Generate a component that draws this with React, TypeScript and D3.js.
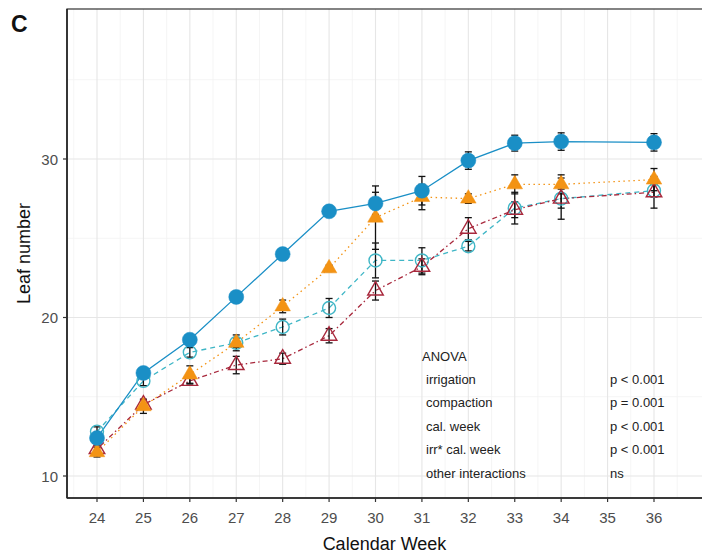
import React from 'react';
import * as d3 from 'd3';

const weeks = [24, 25, 26, 27, 28, 29, 30, 31, 32, 33, 34, 36];
const blueMean = [12.4, 16.5, 18.6, 21.3, 24.0, 26.7, 27.2, 28.0, 29.9, 31.0, 31.1, 31.05];
const blueErr = [0.2, 0.2, 0.2, 0.2, 0.2, 0.2, 0.7, 0.9, 0.55, 0.5, 0.55, 0.55];
const orangeMean = [11.5, 14.4, 16.4, 18.4, 20.7, 23.1, 26.3, 27.6, 27.5, 28.4, 28.4, 28.7];
const orangeErr = [0.3, 0.45, 0.55, 0.3, 0.4, 0.2, 2.0, 0.8, 0.3, 0.6, 0.6, 0.7];
const tealMean = [12.8, 16.0, 17.8, 18.4, 19.4, 20.6, 23.6, 23.6, 24.5, 26.9, 27.5, 28.0];
const tealErr = [0.3, 0.3, 0.3, 0.5, 0.5, 0.6, 1.1, 0.8, 0.3, 1.0, 1.3, 0.4];
const redMean = [11.7, 14.5, 16.0, 17.0, 17.4, 18.85, 21.7, 23.2, 25.6, 26.8, 27.5, 27.9];
const redErr = [0.2, 0.3, 0.2, 0.55, 0.35, 0.45, 0.6, 0.5, 0.7, 0.5, 0.6, 1.0];

const xTicks = [24, 25, 26, 27, 28, 29, 30, 31, 32, 33, 34, 35, 36];
const yTicks = [10, 20, 30];

const anovaTerms = ['irrigation', 'compaction', 'cal. week', 'irr* cal. week', 'other interactions'];
const anovaP = ['p < 0.001', 'p = 0.001', 'p < 0.001', 'p < 0.001', 'ns'];

const FONT = '"Liberation Sans", Arial, sans-serif';

// panel box (right edge runs past the crop)
const panel = { left: 67, top: 9, right: 720, bottom: 498 };

const x = d3.scaleLinear().domain([24, 36]).range([97, 654]);
const y = d3.scaleLinear().domain([10, 30]).range([476, 159]);

const series = [
  { key: 'teal', mean: tealMean, err: tealErr, color: '#3fb6c6', dash: '5,4', shape: 'circle', filled: false },
  { key: 'red', mean: redMean, err: redErr, color: '#a8283c', dash: '1.5,3,5,3', shape: 'triangle', filled: false },
  { key: 'orange', mean: orangeMean, err: orangeErr, color: '#f39314', dash: '1.5,3.5', shape: 'triangle', filled: true },
  { key: 'blue', mean: blueMean, err: blueErr, color: '#1a8fc6', dash: null, shape: 'circle', filled: true },
];

export default function App() {
  const line = d3.line<number>()
    .x((d, i) => x(weeks[i]))
    .y(d => y(d));

  const tri = d3.symbol().type(d3.symbolTriangle).size(105)();

  const vMajor = d3.range(24, 37, 1);
  const vMinor = d3.range(23.5, 37.5, 1);
  const hMajor = [10, 20, 30];
  const hMinor = [15, 25, 35];

  const cx = (panel.left + 702) / 2;

  return (
    <div style={{ position: 'absolute', left: 0, top: 0 }}>
      <svg width={702} height={556} style={{ display: 'block', background: '#fff' }}>
        <rect x={0} y={0} width={702} height={556} fill="#fff" />
        <text x={11} y={32} fontFamily={FONT} fontSize={23} fontWeight="bold" fill="#111">C</text>

        {/* grid */}
        <g>
          {hMinor.map(v => (
            <line key={'hm' + v} x1={panel.left} x2={panel.right} y1={y(v)} y2={y(v)} stroke="#f2f2f2" strokeWidth={0.8} />
          ))}
          {vMinor.map(v => (
            <line key={'vm' + v} x1={x(v)} x2={x(v)} y1={panel.top} y2={panel.bottom} stroke="#f2f2f2" strokeWidth={0.8} />
          ))}
          {hMajor.map(v => (
            <line key={'h' + v} x1={panel.left} x2={panel.right} y1={y(v)} y2={y(v)} stroke="#e6e6e6" strokeWidth={1.1} />
          ))}
          {vMajor.map(v => (
            <line key={'v' + v} x1={x(v)} x2={x(v)} y1={panel.top} y2={panel.bottom} stroke="#e6e6e6" strokeWidth={1.1} />
          ))}
        </g>

        {/* lines */}
        {series.map(s => (
          <path key={'l' + s.key} d={line(s.mean) || ''} fill="none" stroke={s.color}
            strokeWidth={1.3} strokeDasharray={s.dash || undefined} />
        ))}

        {/* error bars, under the points */}
        {series.map(s => (
          <g key={'e' + s.key} stroke="#111" strokeWidth={1.3}>
            {s.mean.map((v, i) => {
              const px = x(weeks[i]);
              const y0 = y(v - s.err[i]);
              const y1 = y(v + s.err[i]);
              return (
                <g key={i}>
                  <line x1={px} x2={px} y1={y0} y2={y1} />
                  <line x1={px - 3.5} x2={px + 3.5} y1={y0} y2={y0} />
                  <line x1={px - 3.5} x2={px + 3.5} y1={y1} y2={y1} />
                </g>
              );
            })}
          </g>
        ))}

        {/* points */}
        {series.map(s => (
          <g key={'p' + s.key}>
            {s.mean.map((v, i) => s.shape === 'circle' ? (
              <circle key={i} cx={x(weeks[i])} cy={y(v)} r={s.filled ? 7.5 : 6.5}
                fill={s.filled ? s.color : 'none'} stroke={s.color} strokeWidth={s.filled ? 0.5 : 1.4} />
            ) : (
              <path key={i} d={tri || ''} transform={`translate(${x(weeks[i])},${y(v)})`}
                fill={s.filled ? s.color : 'none'} stroke={s.color} strokeWidth={s.filled ? 0.5 : 1.4} />
            ))}
          </g>
        ))}

        {/* ANOVA annotation */}
        <g fontFamily={FONT} fontSize={13} fill="#222">
          <text x={422} y={361}>ANOVA</text>
          {anovaTerms.map((t, i) => (
            <text key={t} x={426} y={384 + i * 23.4}>{t}</text>
          ))}
          {anovaP.map((t, i) => (
            <text key={'p' + i} x={610} y={384 + i * 23.4}>{t}</text>
          ))}
        </g>

        {/* panel border */}
        <rect x={panel.left} y={panel.top} width={panel.right - panel.left} height={panel.bottom - panel.top}
          fill="none" stroke="#333" strokeWidth={1.2} />
        <line x1={panel.left} x2={panel.left} y1={panel.top} y2={panel.bottom} stroke="#222" strokeWidth={1.6} />
        <line x1={panel.left} x2={panel.right} y1={panel.bottom} y2={panel.bottom} stroke="#222" strokeWidth={1.6} />

        {/* axes */}
        <g fontFamily={FONT} fontSize={15} fill="#4d4d4d">
          {xTicks.map(t => (
            <g key={'xt' + t}>
              <line x1={x(t)} x2={x(t)} y1={panel.bottom} y2={panel.bottom + 4} stroke="#333" strokeWidth={1.2} />
              <text x={x(t)} y={523} textAnchor="middle">{t}</text>
            </g>
          ))}
          {yTicks.map(t => (
            <g key={'yt' + t}>
              <line x1={panel.left - 4} x2={panel.left} y1={y(t)} y2={y(t)} stroke="#333" strokeWidth={1.2} />
              <text x={58} y={y(t) + 5.5} textAnchor="end">{t}</text>
            </g>
          ))}
        </g>

        <text x={cx} y={550} textAnchor="middle" fontFamily={FONT} fontSize={18} fill="#111">Calendar Week</text>
        <text transform={`translate(30,${(panel.top + panel.bottom) / 2}) rotate(-90)`} textAnchor="middle"
          fontFamily={FONT} fontSize={18} fill="#111">Leaf number</text>
      </svg>
    </div>
  );
}
